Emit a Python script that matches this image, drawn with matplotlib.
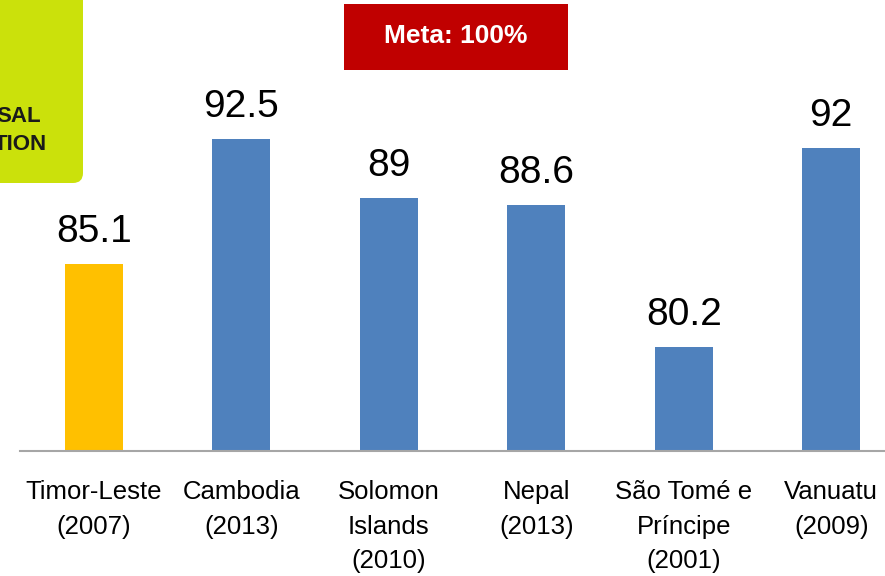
import matplotlib.pyplot as plt
from matplotlib.patches import FancyBboxPatch, Rectangle

# Data
countries = ['Timor-Leste\n(2007)', 'Cambodia\n(2013)', 'Solomon\nIslands\n(2010)',
             'Nepal\n(2013)', 'São Tomé e\nPríncipe\n(2001)', 'Vanuatu\n(2009)']
values = [85.1, 92.5, 89, 88.6, 80.2, 92]
value_labels = ['85.1', '92.5', '89', '88.6', '80.2', '92']
colors = ['#FFC000', '#4F81BD', '#4F81BD', '#4F81BD', '#4F81BD', '#4F81BD']

plt.rcParams['font.family'] = ['Liberation Sans', 'DejaVu Sans']

fig = plt.figure(figsize=(8.85, 5.76), dpi=100)
ax = fig.add_axes([20 / 885, 125 / 576, 1.0, 438 / 576])

x = range(len(values))
ax.bar(x, values, width=0.39, color=colors)

for i, v in enumerate(values):
    ax.annotate(value_labels[i], (i, v), xytext=(0, 10), textcoords='offset points',
                ha='center', va='bottom', fontsize=28, color='black')

ax.set_xlim(-0.5, 5.5)
ax.set_ylim(74, 100)
ax.set_xticks(list(x))
ax.set_xticklabels(countries, fontsize=18.5, linespacing=1.55)
ax.tick_params(axis='x', length=0, pad=21)
ax.set_yticks([])
for side in ['top', 'right', 'left']:
    ax.spines[side].set_visible(False)
ax.spines['bottom'].set_color('#A6A6A6')
ax.spines['bottom'].set_linewidth(1.5)

# green badge in the top-left corner (cut off)
badge = FancyBboxPatch((-0.5, 3.93), 1.33, 2.5, boxstyle='round,pad=0,rounding_size=0.1',
                       transform=fig.dpi_scale_trans, facecolor='#CBE10B', edgecolor='none')
fig.patches.append(badge)
fig.text(41 / 885, 1 - 122 / 576, 'SAL', ha='right', va='baseline',
         fontsize=16, fontweight='bold', color='#1a1a1a')
fig.text(47 / 885, 1 - 150 / 576, 'TION', ha='right', va='baseline',
         fontsize=16, fontweight='bold', color='#1a1a1a')

# red target box
fig.patches.append(Rectangle((344 / 885, 1 - 70 / 576), 224 / 885, 66 / 576,
                             transform=fig.transFigure, facecolor='#C00000', edgecolor='none'))
fig.text(456 / 885, 1 - 43 / 576, 'Meta: 100%', ha='center', va='baseline',
         fontsize=19, fontweight='bold', color='white')

plt.savefig('out.png', dpi=100)
